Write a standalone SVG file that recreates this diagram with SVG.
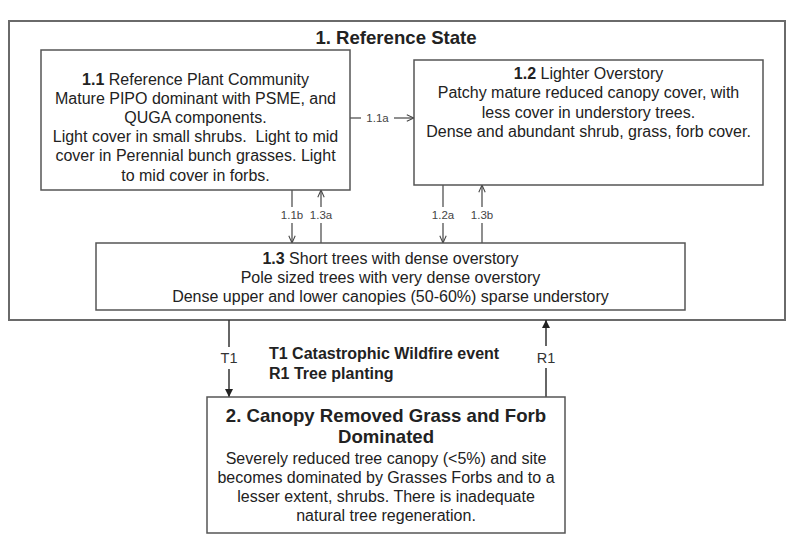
<svg xmlns="http://www.w3.org/2000/svg" width="800" height="547" viewBox="0 0 800 547">
<defs>
<marker id="open" viewBox="0 0 10 10" refX="10" refY="5" markerWidth="8" markerHeight="8" markerUnits="userSpaceOnUse" orient="auto">
<path d="M1,1 L10,5 L1,9" fill="none" stroke="#444" stroke-width="1.3"/>
</marker>
<marker id="solid" viewBox="0 0 10 10" refX="10" refY="5" markerWidth="9" markerHeight="8" markerUnits="userSpaceOnUse" orient="auto">
<path d="M0,0 L10,5 L0,10 Z" fill="#222"/>
</marker>
</defs>
<style>
text{font-family:"Liberation Sans",Arial,sans-serif;fill:#222}
.n{font-size:16px;text-anchor:middle}
.b{font-weight:bold}
.t{font-size:18.6px;font-weight:bold;text-anchor:middle}
.s{font-size:11.5px;fill:#444;text-anchor:middle}
.l{font-size:14.5px;fill:#333;text-anchor:middle}
.box{fill:#fff;stroke:#555;stroke-width:1.5}
.c{fill:none;stroke:#444;stroke-width:1.2}
.c2{fill:none;stroke:#333;stroke-width:1.5}
</style>
<rect width="800" height="547" fill="#fff"/>
<g id="state1">
<rect x="9" y="21" width="776" height="299" fill="#fff" stroke="#6a6a6a" stroke-width="2"/>
<text class="t" x="396" y="43.5">1. Reference State</text>
</g>
<g id="connectors">
<line class="c" x1="350" y1="118" x2="361" y2="118"/>
<line class="c" x1="394" y1="118" x2="414" y2="118" marker-end="url(#open)"/>
<text class="s" x="377.5" y="122">1.1a</text>
<line class="c" x1="292" y1="190" x2="292" y2="207"/>
<line class="c" x1="292" y1="223" x2="292" y2="243" marker-end="url(#open)"/>
<text class="s" x="292" y="219">1.1b</text>
<line class="c" x1="321" y1="243" x2="321" y2="223"/>
<line class="c" x1="321" y1="207" x2="321" y2="190" marker-end="url(#open)"/>
<text class="s" x="321" y="219">1.3a</text>
<line class="c" x1="443" y1="185" x2="443" y2="207"/>
<line class="c" x1="443" y1="223" x2="443" y2="243" marker-end="url(#open)"/>
<text class="s" x="443" y="219">1.2a</text>
<line class="c" x1="482" y1="243" x2="482" y2="223"/>
<line class="c" x1="482" y1="207" x2="482" y2="185" marker-end="url(#open)"/>
<text class="s" x="482" y="219">1.3b</text>
<line class="c2" x1="229" y1="320" x2="229" y2="347"/>
<line class="c2" x1="229" y1="369" x2="229" y2="397" marker-end="url(#solid)"/>
<text class="l" x="229" y="363">T1</text>
<line class="c2" x1="546" y1="397" x2="546" y2="368"/>
<line class="c2" x1="546" y1="346" x2="546" y2="320" marker-end="url(#solid)"/>
<text class="l" x="546" y="363">R1</text>
</g>
<g id="node11">
<rect class="box" x="41" y="50" width="309" height="140"/>
<text class="n" x="195.5" y="84.5"><tspan class="b">1.1</tspan> Reference Plant Community</text>
<text class="n" x="195.5" y="103.7">Mature PIPO dominant with PSME, and</text>
<text class="n" x="195.5" y="122.9">QUGA components.</text>
<text class="n" x="195.5" y="142.1" style="white-space:pre">Light cover in small shrubs.  Light to mid</text>
<text class="n" x="195.5" y="161.3">cover in Perennial bunch grasses. Light</text>
<text class="n" x="195.5" y="180.5">to mid cover in forbs.</text>
</g>
<g id="node12">
<rect class="box" x="414" y="60" width="349" height="125"/>
<text class="n" x="588.5" y="79"><tspan class="b">1.2</tspan> Lighter Overstory</text>
<text class="n" x="588.5" y="98.3">Patchy mature reduced canopy cover, with</text>
<text class="n" x="588.5" y="117.6">less cover in understory trees.</text>
<text class="n" x="588.5" y="136.9">Dense and abundant shrub, grass, forb cover.</text>
</g>
<g id="node13">
<rect class="box" x="96" y="243" width="589" height="67"/>
<text class="n" x="390.5" y="263.5"><tspan class="b">1.3</tspan> Short trees with dense overstory</text>
<text class="n" x="390.5" y="282.5">Pole sized trees with very dense overstory</text>
<text class="n" x="390.5" y="301.5">Dense upper and lower canopies (50-60%) sparse understory</text>
</g>
<g id="legend">
<text class="b" x="269" y="359" font-size="16">T1 Catastrophic Wildfire event</text>
<text class="b" x="269" y="379" font-size="16">R1 Tree planting</text>
</g>
<g id="state2">
<rect class="box" x="207" y="397" width="358" height="136"/>
<text class="t" x="386" y="421.5">2. Canopy Removed Grass and Forb</text>
<text class="t" x="386" y="442.5">Dominated</text>
<text class="n" x="386" y="463.5">Severely reduced tree canopy (&lt;5%) and site</text>
<text class="n" x="386" y="482.8">becomes dominated by Grasses Forbs and to a</text>
<text class="n" x="386" y="502.1">lesser extent, shrubs. There is inadequate</text>
<text class="n" x="386" y="521.4">natural tree regeneration.</text>
</g>
</svg>
